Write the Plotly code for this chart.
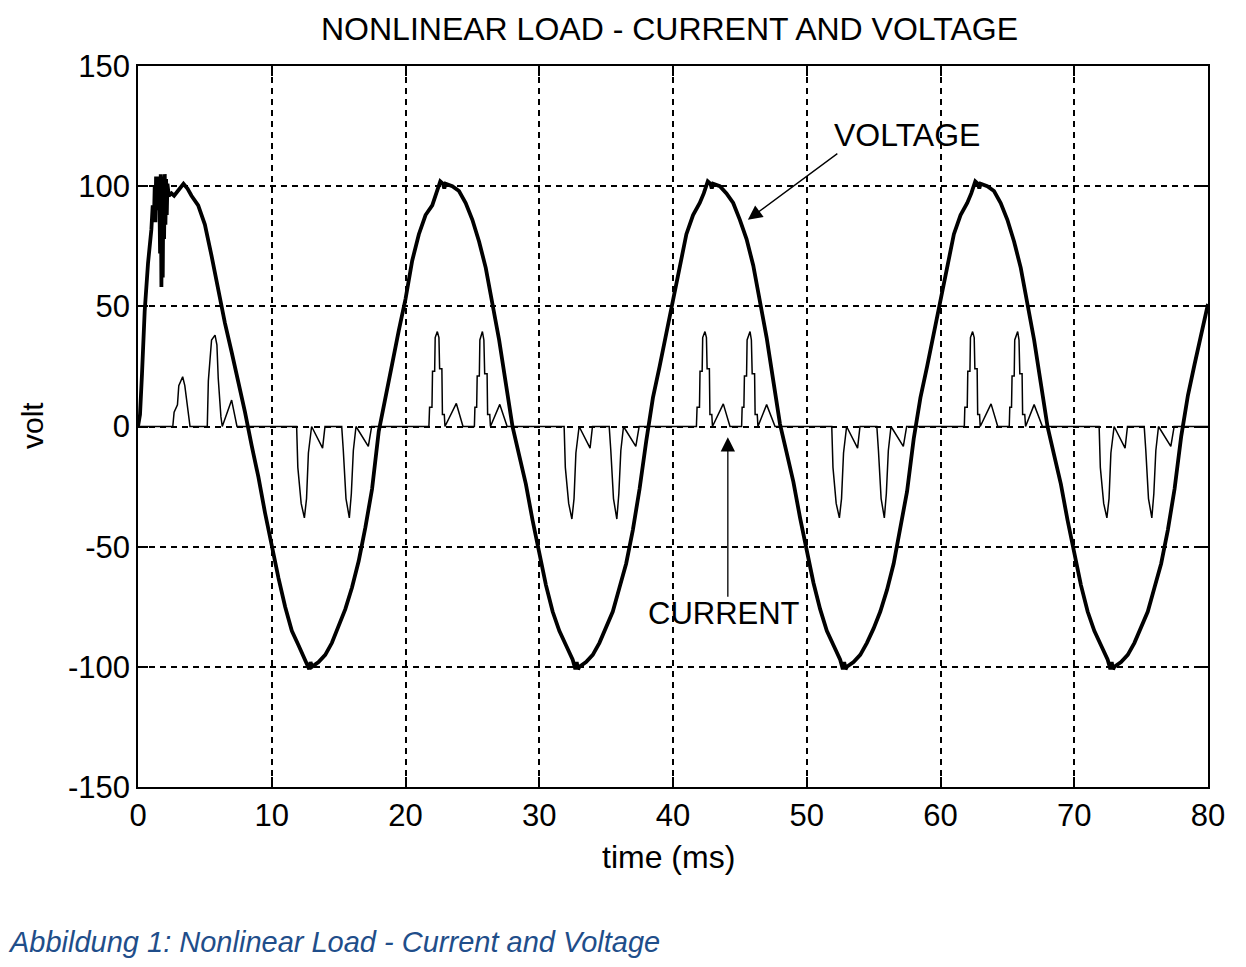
import plotly.graph_objects as go

# ---------------- data ----------------
volt_t = [0.0, 0.15, 0.3, 0.5, 0.75, 1.0, 1.1, 1.2, 1.25, 1.3, 1.35, 1.4, 1.45, 1.5, 1.55, 1.6,
          1.65, 1.7, 1.75, 1.8, 1.85, 1.9, 1.95, 2.0, 2.05, 2.1, 2.15, 2.2, 2.3, 2.5, 2.7,
          3.0, 3.4, 3.7, 4.0, 4.5, 5.0, 5.5, 6.0, 6.5, 7.0, 7.5, 8.0, 8.5, 9.0, 9.5,
          10.0, 10.5, 11.0, 11.5, 12.0, 12.5, 12.8, 12.9, 13.0, 13.5, 14.0, 14.5, 15.0, 15.5,
          16.0, 16.5, 17.0, 17.5, 18.0, 18.5, 19.0, 19.5, 20.0, 20.5, 21.0, 21.5, 22.0, 22.3,
          22.6, 22.8, 22.9, 23.0, 23.5, 24.0, 24.5, 25.0, 25.5, 26.0, 26.5, 27.0, 27.5, 28.0,
          28.5, 29.0, 29.5, 30.0, 30.5, 31.0, 31.5, 32.0, 32.5, 32.7, 32.8, 32.9, 33.0, 33.5,
          34.0, 34.5, 35.0, 35.5, 36.0, 36.5, 37.0, 37.5, 38.0, 38.5, 39.0, 39.5, 40.0, 40.5,
          41.0, 41.5, 42.0, 42.3, 42.6, 42.8, 42.9, 43.0, 43.5, 44.0, 44.5, 45.0, 45.5, 46.0,
          46.5, 47.0, 47.5, 48.0, 48.5, 49.0, 49.5, 50.0, 50.5, 51.0, 51.5, 52.0, 52.5, 52.7,
          52.8, 52.9, 53.0, 53.5, 54.0, 54.5, 55.0, 55.5, 56.0, 56.5, 57.0, 57.5, 58.0, 58.5,
          59.0, 59.5, 60.0, 60.5, 61.0, 61.5, 62.0, 62.3, 62.6, 62.8, 62.9, 63.0, 63.5, 64.0,
          64.5, 65.0, 65.5, 66.0, 66.5, 67.0, 67.5, 68.0, 68.5, 69.0, 69.5, 70.0, 70.5, 71.0,
          71.5, 72.0, 72.5, 72.7, 72.8, 72.9, 73.0, 73.5, 74.0, 74.5, 75.0, 75.5, 76.0, 76.5,
          77.0, 77.5, 78.0, 78.5, 79.0, 79.5, 80.0]
volt_v = [0, 5, 22, 48, 68, 82, 92, 88, 100, 85, 104, 90, 103, 95, 104, 96,
          72, 105, 58, 104, 62, 103, 78, 105, 84, 103, 88, 101, 96, 97, 96,
          98, 101, 99, 96, 92, 84, 71, 56, 43, 31, 19, 6, -8, -21, -36,
          -50, -63, -75, -85, -91, -97, -101, -98, -100, -98, -95, -90, -83, -76,
          -67, -56, -42, -26, -2, 13, 26, 40, 53, 69, 80, 88, 92, 97,
          102, 101, 99, 101, 100, 98, 93, 86, 77, 66, 52, 36, 18, 0,
          -12, -24, -39, -52, -66, -77, -85, -91, -97, -101, -98, -101, -100, -98,
          -95, -90, -83, -77, -67, -57, -43, -26, -6, 12, 25, 39, 52, 68,
          80, 88, 93, 97, 102, 101, 99, 101, 100, 97, 93, 86, 78, 67,
          53, 37, 19, 1, -11, -23, -38, -51, -65, -76, -85, -91, -97, -101,
          -98, -101, -100, -98, -95, -90, -84, -77, -68, -57, -43, -27, -5, 12,
          25, 39, 52, 68, 80, 88, 93, 97, 102, 101, 99, 101, 100, 98,
          93, 86, 77, 66, 52, 36, 18, 0, -12, -24, -39, -52, -66, -77,
          -85, -91, -97, -101, -98, -101, -100, -98, -95, -90, -83, -77, -67, -57,
          -43, -26, -4, 13, 26, 39, 51]

curr_t = [0.0, 2.6, 2.7, 2.95, 3.05, 3.34, 3.5, 3.75, 3.89, 5.18, 5.26, 5.5, 5.76, 5.9, 6.0,
          6.2, 6.3, 7.0, 7.4,
          11.86, 11.95, 12.2, 12.44, 12.6, 12.74, 12.98, 13.8, 13.98, 15.23, 15.35, 15.55,
          15.8, 15.95, 16.1, 16.3, 17.22, 17.47,
          21.75, 21.8, 21.98, 22.02, 22.18, 22.22, 22.38, 22.5, 22.55, 22.72, 22.76, 22.9,
          22.95, 23.8, 24.3, 25.15, 25.19, 25.32, 25.36, 25.52, 25.56, 25.75, 25.86, 25.92,
          26.1, 26.14, 26.3, 26.35, 27.05, 27.6,
          31.86, 31.95, 32.2, 32.44, 32.6, 32.74, 32.98, 33.8, 33.98, 35.23, 35.35, 35.55,
          35.8, 35.95, 36.1, 36.3, 37.22, 37.47,
          41.75, 41.8, 41.98, 42.02, 42.18, 42.22, 42.39, 42.5, 42.55, 42.72, 42.76, 42.9,
          42.95, 43.76, 44.26, 45.13, 45.17, 45.3, 45.34, 45.5, 45.54, 45.76, 45.86, 45.92,
          46.1, 46.14, 46.3, 46.35, 47.0, 47.63,
          51.87, 51.96, 52.2, 52.44, 52.6, 52.75, 52.98, 53.8, 53.98, 55.24, 55.36, 55.56,
          55.8, 55.95, 56.1, 56.3, 57.22, 57.47,
          61.78, 61.82, 62.0, 62.04, 62.2, 62.24, 62.4, 62.52, 62.57, 62.74, 62.78, 62.92,
          62.97, 63.78, 64.28, 65.14, 65.18, 65.31, 65.35, 65.51, 65.55, 65.77, 65.87, 65.93,
          66.1, 66.14, 66.3, 66.36, 67.0, 67.62,
          71.86, 71.95, 72.2, 72.44, 72.6, 72.74, 72.98, 73.8, 73.98, 75.23, 75.35, 75.55,
          75.8, 75.95, 76.1, 76.3, 77.22, 77.47, 80.0]
curr_i = [0, 0, 6, 9, 17, 20.7, 17, 6, 0, 0, 19, 36, 38, 34, 20,
          4, 0, 11, 0,
          0, -17, -32, -38, -30, -11, 0, -9, 0, 0, -10, -30,
          -38, -28, -10, 0, -8.3, 0,
          0, 8, 8, 23, 23, 37, 39.5, 37, 24, 24, 5, 5,
          0, 9.6, 0, 0, 8, 8, 21, 21, 36, 39.5, 36, 22,
          22, 5, 5, 0, 9.2, 0,
          0, -17, -32, -38.5, -30, -11, 0, -9, 0, 0, -10, -30,
          -38.5, -28, -10, 0, -8.3, 0,
          0, 8, 8, 23, 23, 37, 39.5, 37, 24, 24, 5, 5,
          0, 9.4, 0, 0, 8, 8, 21, 21, 36, 39.5, 36, 22,
          22, 5, 5, 0, 9.1, 0,
          0, -17, -32, -38, -30, -11, 0, -9, 0, 0, -10, -30,
          -38, -28, -10, 0, -8.3, 0,
          0, 8, 8, 23, 23, 37, 39.5, 37, 24, 24, 5, 5,
          0, 9.4, 0, 0, 8, 8, 21, 21, 36, 39.5, 36, 22,
          22, 5, 5, 0, 9.1, 0,
          0, -17, -32, -38, -30, -11, 0, -9, 0, 0, -10, -30,
          -38, -28, -10, 0, -8.3, 0, 0]

x_ticks = [0, 10, 20, 30, 40, 50, 60, 70, 80]
y_ticks = [-150, -100, -50, 0, 50, 100, 150]

title_text = "NONLINEAR LOAD - CURRENT AND VOLTAGE"
xlabel = "time (ms)"
ylabel = "volt"
caption = "Abbildung 1: Nonlinear Load - Current and Voltage"

# ---------------- figure ----------------
FONT = "Liberation Sans, Arial, sans-serif"
# plot area (in page px): left 138, right 1208, top 66, bottom 787; page offset ~8 px
ML, MR, MT, MB = 130, 46, 58, 188
PH = 967 - MT - MB

fig = go.Figure()
fig.add_trace(go.Scatter(x=curr_t, y=curr_i, mode="lines",
                         line=dict(color="black", width=1.5), name="current",
                         showlegend=False))
fig.add_trace(go.Scatter(x=volt_t, y=volt_v, mode="lines",
                         line=dict(color="black", width=3.8), name="voltage",
                         showlegend=False))

axis_common = dict(
    showline=True, linecolor="black", linewidth=1.6, mirror="ticks",
    ticks="inside", ticklen=10, tickwidth=1.6, tickcolor="black",
    showgrid=True, gridcolor="black", gridwidth=1.8, griddash="6px,5px",
    zeroline=False,
    tickfont=dict(family=FONT, size=31, color="black"),
)

fig.update_xaxes(range=[0, 80], tickvals=x_ticks, ticktext=[str(v) for v in x_ticks],
                 **axis_common)
fig.update_yaxes(range=[-150, 150], tickvals=y_ticks, ticktext=[str(v) for v in y_ticks],
                 **axis_common)

def py(page_y):
    """page pixel y -> paper coordinate"""
    return (787 - page_y) / PH

annotations = [
    dict(text=title_text, x=(669 - 138) / 1070, y=py(29), xref="paper", yref="paper",
         showarrow=False, font=dict(family=FONT, size=32, color="black"),
         xanchor="center", yanchor="middle"),
    dict(text=xlabel, x=(668 - 138) / 1070, y=py(857), xref="paper", yref="paper",
         showarrow=False,
         font=dict(family=FONT, size=32, color="black"), xanchor="center", yanchor="middle"),
    dict(text=ylabel, x=(32 - 138) / 1070, y=py(426), xref="paper", yref="paper",
         showarrow=False,
         textangle=-90, font=dict(family=FONT, size=30, color="black"),
         xanchor="center", yanchor="middle"),
    dict(text=caption, x=(6 - 138) / 1070, y=py(942), xref="paper", yref="paper",
         showarrow=False, font=dict(family=FONT, size=29, color="#1F4E8A", style="italic"),
         xanchor="left", yanchor="middle"),
    # VOLTAGE label + arrow
    dict(text="VOLTAGE", x=51.9, y=121.5, xref="x", yref="y", showarrow=False,
         font=dict(family=FONT, size=32, color="black"), xanchor="left", yanchor="middle"),
    dict(text="", x=45.6, y=86, ax=52.4, ay=114, xref="x", yref="y", axref="x", ayref="y",
         showarrow=True, arrowhead=2, arrowsize=2.2, arrowwidth=1.3, arrowcolor="black"),
    # CURRENT label + arrow
    dict(text="CURRENT", x=43.8, y=-78, xref="x", yref="y", showarrow=False,
         font=dict(family=FONT, size=31, color="black"), xanchor="center", yanchor="middle"),
    dict(text="", x=44.1, y=-4.5, ax=44.1, ay=-71.5, xref="x", yref="y", axref="x", ayref="y",
         showarrow=True, arrowhead=2, arrowsize=2.2, arrowwidth=1.3, arrowcolor="black"),
]

fig.update_layout(
    width=1246, height=967,
    margin=dict(l=ML, r=MR, t=MT, b=MB),
    paper_bgcolor="white", plot_bgcolor="white",
    annotations=annotations,
    showlegend=False,
)

fig.write_html("out.html")
